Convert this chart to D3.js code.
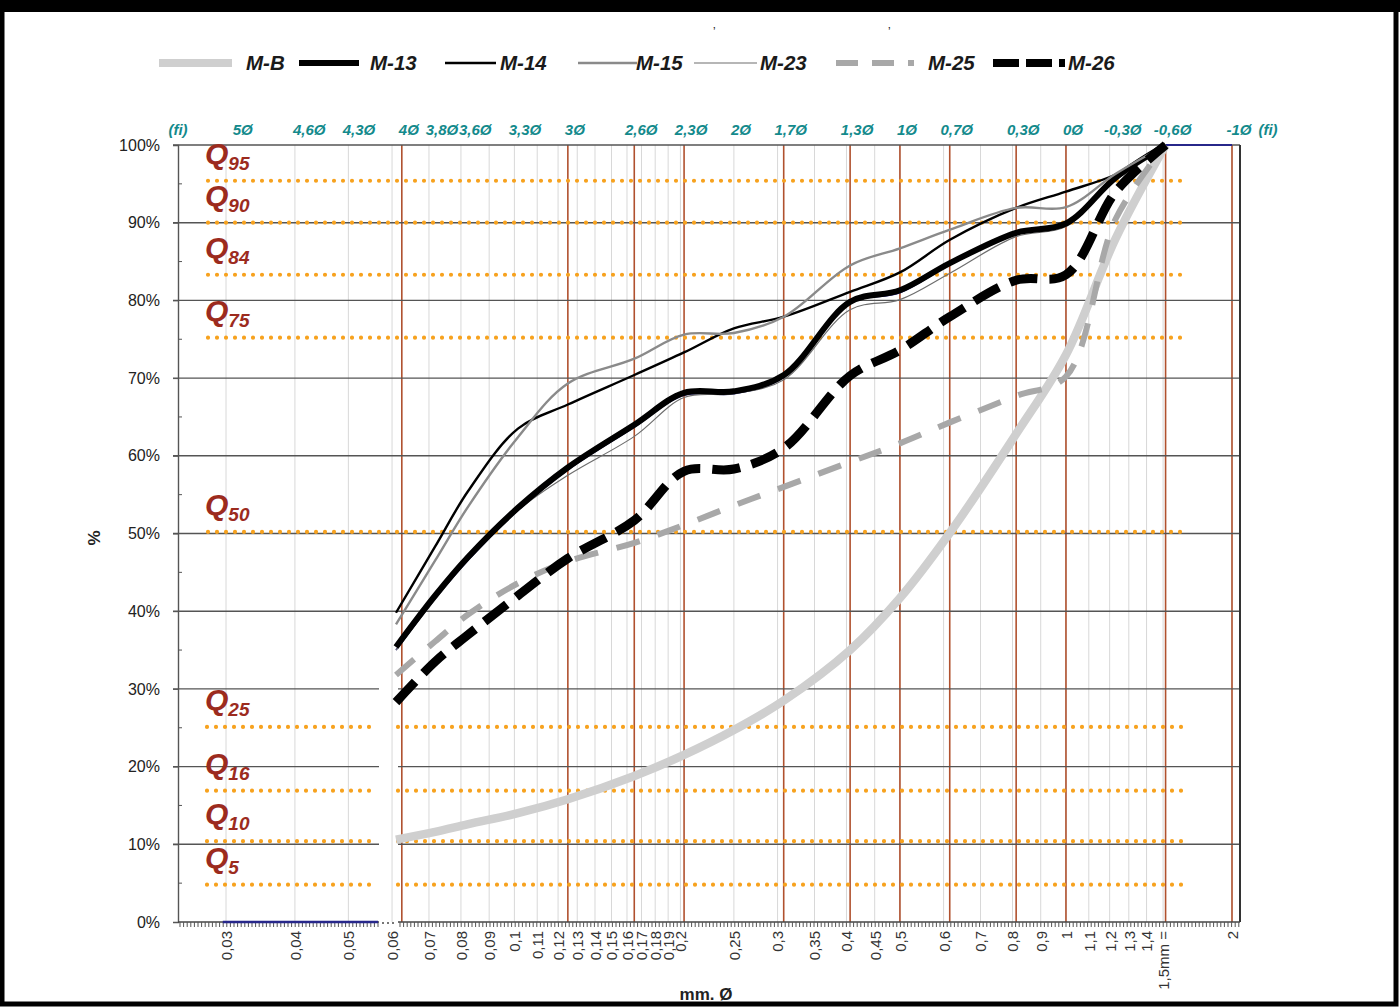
<!DOCTYPE html>
<html><head><meta charset="utf-8">
<script src="https://cdn.jsdelivr.net/npm/d3@7"></script>
<style>
html,body{margin:0;padding:0;background:#fff;}
svg{display:block;}
text{font-family: Arial, "Liberation Sans", sans-serif;}
</style></head><body>
<svg id="chart" width="1400" height="1007"></svg>
<script>
// ---------------- DATA ----------------
// sieve sizes (mm) at which the cumulative curves are sampled
const sieveMm = [0.061, 0.0718, 0.0825, 0.1015, 0.125, 0.165, 0.203, 0.25, 0.308, 0.406, 0.5, 0.616, 0.812, 1.0, 1.231, 1.516];
const seriesNames = ["M-B", "M-13", "M-14", "M-15", "M-23", "M-25", "M-26"];
const valuesMB  = [10.6, 11.6, 12.6, 14.0, 15.8, 18.8, 21.5, 24.7, 28.5, 35.0, 41.7, 50.1, 62.8, 73.0, 88.0, 100];
const values13  = [35.4, 42.0, 47.0, 53.3, 58.5, 64.0, 68.1, 68.3, 70.4, 79.8, 81.3, 84.8, 88.7, 89.9, 95.8, 100];
const values14  = [39.8, 48.3, 55.5, 63.5, 66.6, 70.4, 73.3, 76.4, 77.9, 81.1, 83.6, 87.8, 91.9, 94.0, 96.2, 100];
const values15  = [38.3, 46.5, 53.5, 62.4, 69.3, 72.5, 75.6, 75.8, 77.9, 84.5, 86.7, 89.1, 91.9, 92.0, 96.3, 100];
const values23  = [35.0, 41.5, 46.6, 53.0, 57.5, 62.5, 67.5, 68.0, 69.8, 78.8, 80.1, 83.5, 88.2, 89.5, 95.8, 100];
const values25  = [31.8, 36.1, 39.6, 43.6, 46.4, 48.8, 51.1, 53.6, 56.0, 59.2, 61.6, 64.3, 67.7, 70.2, 90.5, 100];
const values26  = [28.3, 33.5, 37.0, 42.0, 46.8, 51.7, 58.0, 58.3, 61.0, 70.3, 73.6, 77.9, 82.6, 83.3, 94.0, 100];
// unlabeled navy base series (follows M-13, with 0% and 100% tails)
const navyValues = [35.0, 41.6, 46.6, 53.0, 58.2, 63.7, 67.8, 68.0, 70.1, 79.6, 81.0, 84.6, 88.5, 89.7, 95.8, 100];
const navyLowMm = [0.0296, 0.0566];
const navyLowVal = [0, 0];
const navyHighMm = [1.516, 2.0];
const navyHighVal = [100, 100];

const quantileNames  = ["95", "90", "84", "75", "50", "25", "16", "10", "5"];
const quantileValues = [95.4, 90, 83.3, 75.2, 50.2, 25.1, 16.9, 10.4, 4.8];

const phiLabels = ["5Ø", "4,6Ø", "4,3Ø", "4Ø", "3,8Ø", "3,6Ø", "3,3Ø", "3Ø", "2,6Ø", "2,3Ø", "2Ø", "1,7Ø", "1,3Ø", "1Ø", "0,7Ø", "0,3Ø", "0Ø", "-0,3Ø", "-0,6Ø", "-1Ø"];
const phiValues = [5, 4.6, 4.3, 4, 3.8, 3.6, 3.3, 3, 2.6, 2.3, 2, 1.7, 1.3, 1, 0.7, 0.3, 0, -0.3, -0.6, -1];
const phiBrownLines = [4, 3, 2.6, 2.3, 1.7, 1.3, 1, 0.7, 0.3, 0, -0.6, -1];

const xTickValues = [0.03, 0.04, 0.05, 0.06, 0.07, 0.08, 0.09, 0.1, 0.11, 0.12, 0.13, 0.14, 0.15, 0.16, 0.17, 0.18, 0.19, 0.2, 0.25, 0.3, 0.35, 0.4, 0.45, 0.5, 0.6, 0.7, 0.8, 0.9, 1, 1.1, 1.2, 1.3, 1.4, 1.5, 2];
const xTickLabels = ["0,03", "0,04", "0,05", "0,06", "0,07", "0,08", "0,09", "0,1", "0,11", "0,12", "0,13", "0,14", "0,15", "0,16", "0,17", "0,18", "0,19", "0,2", "0,25", "0,3", "0,35", "0,4", "0,45", "0,5", "0,6", "0,7", "0,8", "0,9", "1", "1,1", "1,2", "1,3", "1,4", "1,5mm =", "2"];
const yTickValues = [0, 10, 20, 30, 40, 50, 60, 70, 80, 90, 100];
const yMinorTicks = [5, 15, 25, 35, 45, 55, 65, 75, 85, 95];

// ---------------- STYLE / LAYOUT ----------------
const seriesValues = [valuesMB, values13, values14, values15, values23, values25, values26];
const seriesStyle = [
  {color: "#cfcfcf", width: 8.5, dash: null,    legDash: null},
  {color: "#000000", width: 6,   dash: null,    legDash: null},
  {color: "#000000", width: 2.4, dash: null,    legDash: null},
  {color: "#8a8a8a", width: 2.4, dash: null,    legDash: null},
  {color: "#6e6e6e", width: 1.2, dash: null,    legDash: null},
  {color: "#a8a8a8", width: 6,   dash: "24,19", legDash: "22,14"},
  {color: "#000000", width: 9,   dash: "28,12", legDash: "26,7"}
];
const legendLineX   = [159, 299, 445, 578, 694, 836, 993];
const legendLineLen = [73, 60, 51, 59, 63, 78, 72];
const legendTextX   = [246, 370, 500, 636, 760, 928, 1068];

const L = 178, R = 1240, T = 145, B = 922;
const gapL = 379, gapR = 398;
const FONT = "Arial, 'Liberation Sans', sans-serif";

const svg = d3.select("#chart");
svg.append("rect").attr("width", 1400).attr("height", 1007).attr("fill", "#fff");

const x = d3.scaleLog().domain([0.03, 2]).range([226, 1232]);
const y = d3.scaleLinear().domain([0, 100]).range([B, T]);
const phiToMm = p => Math.pow(2, -p);

const g = svg.append("g");

// light vertical gridlines at every tick value
g.selectAll("line.vgrid").data(xTickValues).join("line")
  .attr("x1", d => x(d)).attr("x2", d => x(d)).attr("y1", T).attr("y2", B)
  .attr("stroke", "#d8d8d8").attr("stroke-width", 1);

// brown phi lines
g.selectAll("line.phi").data(phiBrownLines).join("line")
  .attr("x1", d => x(phiToMm(d))).attr("x2", d => x(phiToMm(d))).attr("y1", T).attr("y2", B)
  .attr("stroke", "#b0512e").attr("stroke-width", 1.6);

// horizontal gridlines
yTickValues.forEach(v => {
  if (v === 0) return;
  const segs = v <= 30 ? [[L - 5, gapL], [gapR, R]] : [[L - 5, R]];
  segs.forEach(s => g.append("line")
    .attr("x1", s[0]).attr("x2", s[1]).attr("y1", y(v)).attr("y2", y(v))
    .attr("stroke", "#555").attr("stroke-width", 1.4));
});

// quantile dotted lines
quantileValues.forEach(v => {
  const segs = v < 30 ? [[207, 377], [gapR, 1186]] : [[208, 1188]];
  segs.forEach(s => g.append("line")
    .attr("x1", s[0]).attr("x2", s[1]).attr("y1", y(v)).attr("y2", y(v))
    .attr("stroke", "#f7a21e").attr("stroke-width", 4.2)
    .attr("stroke-dasharray", "0,9").attr("stroke-linecap", "round"));
});

// right border
g.append("line").attr("x1", R).attr("x2", R).attr("y1", T).attr("y2", B)
  .attr("stroke", "#333").attr("stroke-width", 2);

// y axis
const yAxis = d3.axisLeft(y).tickValues(yTickValues).tickFormat(d => d + "%").tickSize(5).tickPadding(13);
const yg = svg.append("g").attr("transform", `translate(${L},0)`).call(yAxis);
yg.select(".domain").attr("stroke", "#555").attr("stroke-width", 1.4);
yg.selectAll(".tick line").attr("stroke", "#555");
yg.selectAll("text").attr("font-size", 16).attr("fill", "#222").attr("font-family", FONT);
yg.selectAll("line.minor").data(yMinorTicks).join("line").attr("class", "minor")
  .attr("x1", 0).attr("x2", 4).attr("y1", d => y(d)).attr("y2", d => y(d))
  .attr("stroke", "#555");

// bottom axis line with gap
[[L, gapL], [gapR, R]].forEach(s => svg.append("line")
  .attr("x1", s[0]).attr("x2", s[1]).attr("y1", B).attr("y2", B)
  .attr("stroke", "#444").attr("stroke-width", 1.6));
svg.append("line").attr("x1", gapL + 3).attr("x2", gapR - 2).attr("y1", B + 1).attr("y2", B + 1)
  .attr("stroke", "#777").attr("stroke-width", 2).attr("stroke-dasharray", "2,3");

// minor ticks on bottom axis
const minorMm = [];
[[L + 2, gapL], [gapR + 2, R]].forEach(s => {
  for (let p = s[0]; p <= s[1]; p += 3.6) minorMm.push(x.invert(p));
});
svg.append("g").selectAll("line").data(minorMm).join("line")
  .attr("x1", d => x(d)).attr("x2", d => x(d)).attr("y1", B).attr("y2", B + 5)
  .attr("stroke", "#555").attr("stroke-width", 1);

// bottom labels
const xAxis = d3.axisBottom(x).tickValues(xTickValues).tickSize(0)
  .tickFormat((d, i) => xTickLabels[i]);
const xg = svg.append("g").attr("transform", `translate(0,${B})`).call(xAxis);
xg.select(".domain").remove();
xg.selectAll("text")
  .attr("transform", "rotate(-90)")
  .attr("x", -9).attr("y", 0).attr("dy", "0.36em")
  .style("text-anchor", "end")
  .attr("font-size", 15).attr("fill", "#333").attr("font-family", FONT);

// top phi labels
const topG = svg.append("g");
topG.selectAll("text").data(phiValues).join("text")
  .attr("x", d => x(phiToMm(d)) + 7).attr("y", 135)
  .attr("text-anchor", "middle")
  .attr("font-size", 15).attr("font-weight", "bold").attr("font-style", "italic")
  .attr("fill", "#138a8c")
  .text((d, i) => phiLabels[i]);
[178, 1268].forEach(px => topG.append("text").attr("x", px).attr("y", 135).attr("text-anchor", "middle")
  .attr("font-size", 15).attr("font-weight", "bold").attr("font-style", "italic")
  .attr("fill", "#138a8c").text("(fi)"));

// Q labels
quantileValues.forEach((v, i) => {
  const t = svg.append("text").attr("x", 205).attr("y", y(v) - 17)
    .attr("font-weight", "bold").attr("font-style", "italic").attr("fill", "#9c2b1e");
  t.append("tspan").attr("font-size", 30).text("Q");
  t.append("tspan").attr("font-size", 19).attr("dy", 6).text(quantileNames[i]);
});

// series lines
const lineGen = d3.line().x(d => x(d[0])).y(d => y(d[1])).curve(d3.curveCatmullRom.alpha(0.5));
const plotG = svg.append("g");
const drawOrder = [0, 4, 1, 2, 3, 5, 6];
function drawNavy() {
  plotG.append("path").datum(navyLowMm.map((m, i) => [m, navyLowVal[i]]))
    .attr("d", lineGen).attr("fill", "none").attr("stroke", "#27278a").attr("stroke-width", 2.4);
  plotG.append("path").datum(sieveMm.map((m, i) => [m, navyValues[i]]))
    .attr("d", lineGen).attr("fill", "none").attr("stroke", "#27278a").attr("stroke-width", 1.6);
  plotG.append("path").datum(navyHighMm.map((m, i) => [m, navyHighVal[i]]))
    .attr("d", lineGen).attr("fill", "none").attr("stroke", "#27278a").attr("stroke-width", 2);
}
drawOrder.forEach((si, k) => {
  const st = seriesStyle[si];
  const p = plotG.append("path").datum(sieveMm.map((m, i) => [m, seriesValues[si][i]]))
    .attr("d", lineGen).attr("fill", "none")
    .attr("stroke", st.color).attr("stroke-width", st.width)
    .attr("stroke-linejoin", "round");
  if (st.dash) p.attr("stroke-dasharray", st.dash);
  if (k === 0) drawNavy();
});

// legend
const legG = svg.append("g");
seriesNames.forEach((name, i) => {
  const st = seriesStyle[i];
  const ln = legG.append("line")
    .attr("x1", legendLineX[i]).attr("x2", legendLineX[i] + legendLineLen[i])
    .attr("y1", 63).attr("y2", 63)
    .attr("stroke", st.color).attr("stroke-width", Math.min(st.width, 8));
  if (st.legDash) ln.attr("stroke-dasharray", st.legDash);
  legG.append("text").attr("x", legendTextX[i]).attr("y", 70)
    .attr("font-size", 20.5).attr("font-weight", "bold").attr("font-style", "italic")
    .attr("fill", "#1a1a1a").text(name);
});

// axis titles
svg.append("text").attr("transform", "translate(100,538) rotate(-90)")
  .attr("text-anchor", "middle").attr("font-size", 17).attr("font-weight", "bold")
  .attr("fill", "#222").text("%");
svg.append("text").attr("x", 706).attr("y", 1000).attr("text-anchor", "middle")
  .attr("font-size", 17).attr("font-weight", "bold").attr("fill", "#222").text("mm. Ø");

// small marks at top
svg.append("text").attr("x", 713).attr("y", 36).attr("font-size", 12).attr("fill", "#222").text("ʼ");
svg.append("text").attr("x", 888).attr("y", 36).attr("font-size", 12).attr("fill", "#222").text("ʼ");

// outer black frame
svg.append("rect").attr("x", 2).attr("y", 6).attr("width", 1394).attr("height", 998)
  .attr("fill", "none").attr("stroke", "#000").attr("stroke-width", 5);
svg.append("rect").attr("x", 0).attr("y", 0).attr("width", 1400).attr("height", 12).attr("fill", "#000");
</script>
</body></html>
